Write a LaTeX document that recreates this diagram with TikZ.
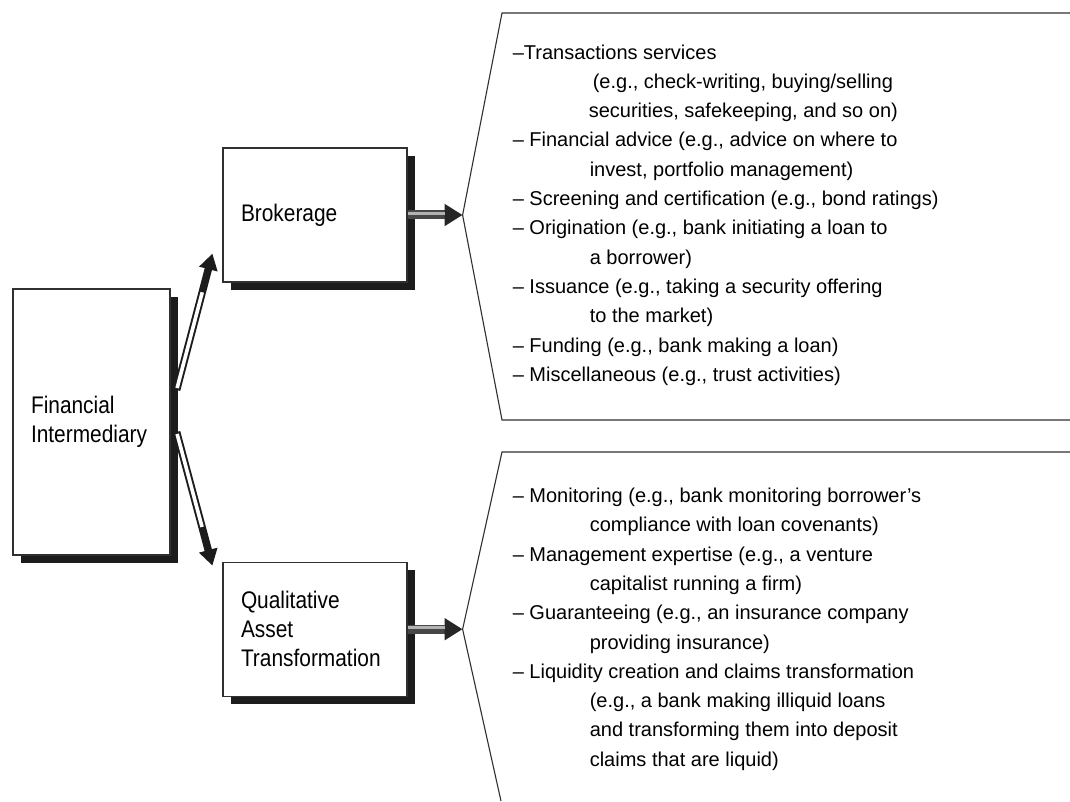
\documentclass[tikz,border=0pt]{standalone}
\usepackage{fontspec}
\setmainfont{Liberation Sans}
\newfontfamily\boxfont[FakeStretch=0.87]{Liberation Sans}
\usetikzlibrary{arrows.meta,positioning,shadows,calc}
\definecolor{Ink}{HTML}{303030}
\definecolor{Shade}{HTML}{1C1C1C}
\newcommand{\subline}[1][77pt]{\hspace*{#1}}

\begin{document}
\begin{tikzpicture}[x=1pt,y=1pt,
  unit/.style={draw=Ink,line width=1.2pt,fill=white,inner sep=0pt,
    minimum width=184pt,minimum height=134pt,text width=148pt,align=left,
    font=\boxfont\fontsize{24}{29}\selectfont,
    drop shadow={shadow xshift=8pt,shadow yshift=-8pt,fill=Shade,opacity=1}},
  list/.style={inner sep=0pt,align=left,font=\fontsize{20}{29.3}\selectfont},
  panel/.style={draw=Ink,line width=1.1pt},
  fat/.style={line width=9pt,draw=black!72,-{Triangle[length=18pt,width=21pt,color=black!85]},
    postaction={draw=black!30,line width=2.4pt,-,shorten >=18pt,transform canvas={yshift=1.6pt}}},
  tube/.style={line width=7.5pt,draw=Shade,-{Triangle[length=16pt,width=18pt]},
    postaction={draw=white,line width=3.6pt,-,shorten >=40pt,shorten <=2pt}}]
\path[use as bounding box,fill=white](0,0) rectangle (1070,801);
\node[unit,minimum width=157pt,minimum height=266pt,text width=121pt](fi) at (91.5,379){Financial\\Intermediary};
\node[unit](brokerage) at (315,586){Brokerage};
\node[unit,below=279pt of brokerage](qat){Qualitative\\Asset\\Transformation};
\coordinate[right=55pt of brokerage.east](bvert);
\coordinate[right=55pt of qat.east](qvert);
% the two open panels
\draw[panel](1070,788)--(502,788)--(bvert)--(502,381)--(1070,381);
\draw[panel](1070,349)--(502,349)--(qvert)--(501,0);
\node[list,right=50pt of bvert](brokerlist){\textendash Transactions services\\
  \subline[80pt](e.g., check-writing, buying/selling\\
  \subline[76pt]securities, safekeeping, and so on)\\
  \textendash{} Financial advice (e.g., advice on where to\\
  \subline invest, portfolio management)\\
  \textendash{} Screening and certification (e.g., bond ratings)\\
  \textendash{} Origination (e.g., bank initiating a loan to\\
  \subline a borrower)\\
  \textendash{} Issuance (e.g., taking a security offering\\
  \subline to the market)\\
  \textendash{} Funding (e.g., bank making a loan)\\
  \textendash{} Miscellaneous (e.g., trust activities)};
\node[list,right=50pt of qvert](qatlist){\textendash{} Monitoring (e.g., bank monitoring borrower's\\
  \subline compliance with loan covenants)\\
  \textendash{} Management expertise (e.g., a venture\\
  \subline capitalist running a firm)\\
  \textendash{} Guaranteeing (e.g., an insurance company\\
  \subline providing insurance)\\
  \textendash{} Liquidity creation and claims transformation\\
  \subline (e.g., a bank making illiquid loans\\
  \subline and transforming them into deposit\\
  \subline claims that are liquid)};
% arrows
\draw[fat](brokerage.east)--(bvert);\draw[fat](qat.east)--(qvert);
\draw[tube]($(fi.east)+(6,32)$)--($(brokerage.south west)+(-10,29)$);
\draw[tube]($(fi.east)+(6,-10)$)--($(qat.north west)+(-10,-4)$);
\end{tikzpicture}
\end{document}
